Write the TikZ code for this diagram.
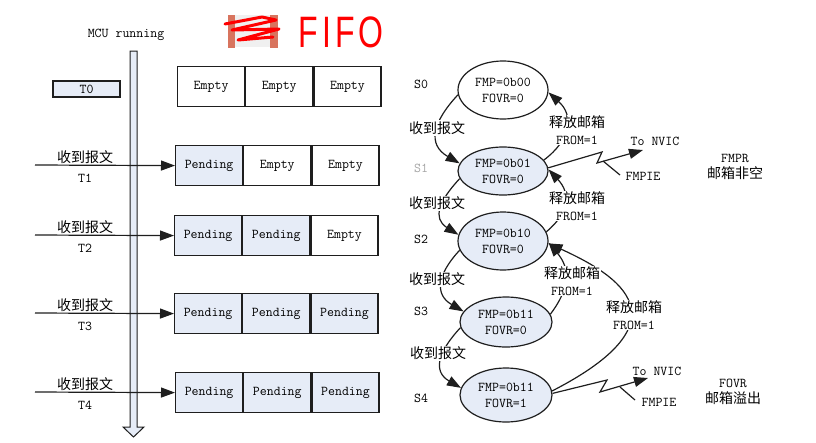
\documentclass[tikz,border=0pt]{standalone}
\usepackage{fontspec}
\setmainfont{Liberation Serif}
\newfontfamily\cjk{Noto Sans CJK SC}
\newfontfamily\hand{Liberation Sans}
\usetikzlibrary{arrows.meta,shapes.geometric}
\definecolor{lb}{HTML}{E6ECF7}
\definecolor{ln}{HTML}{1E1E1E}
\definecolor{salmon}{HTML}{D8745E}
\begin{document}
\begin{tikzpicture}[x=1pt,y=-1pt,
  mono/.style={font=\ttfamily\fontsize{13.5}{16}\selectfont},
  cn/.style={font=\cjk\fontsize{14}{17}\selectfont},
  cell/.style={draw=ln, line width=1.2pt, minimum width=67pt, minimum height=40pt, inner sep=0pt, mono},
  pend/.style={cell, fill=lb},
  st/.style={ellipse, draw=ln, line width=1.2pt, inner sep=0pt, align=center, mono, fill=lb},
  arr/.style={-{Triangle[length=14pt,width=10pt]}, line width=1.2pt, draw=ln},
  thin/.style={line width=1.2pt, draw=ln},
  lbl/.style={fill=white, inner sep=1pt, align=center, font=\fontsize{13.5}{17}\selectfont}
]
\useasboundingbox (0,0) rectangle (816,442);

% red scribble
\fill[gray!12] (229,15) rectangle (277,47);
\fill[salmon] (228,15) rectangle (235,48);
\fill[salmon] (270,15) rectangle (278,48);
\draw[red, line width=3pt, line join=round, line cap=round] (225,24) -- (262,17) -- (276,20) -- (232,30) -- (279,29) -- (238,40) -- (273,37);
\node[text=red, font=\hand, inner sep=0pt] (fifo) at (341,32) {\scalebox{0.8}[1.1]{\fontsize{40}{40}\selectfont F\kern5pt I\kern5pt F\kern5pt O}};

% MCU bar
\node[mono] (mcu) at (126,35) {MCU running};
\draw[fill=lb, draw=ln, line width=1pt] (130,51) -- (137,51) -- (137,427) -- (144,427) -- (133.5,437) -- (123,427) -- (130,427) -- cycle;
\node[draw=ln, fill=lb, line width=1.1pt, minimum width=67pt, minimum height=16pt, inner sep=0pt, mono] (t0) at (86.5,89) {T0};

% FIFO rows
\node[cell, anchor=north west] (r0a) at (177,66) {Empty};
\node[cell, anchor=west] (r0b) at (r0a.east) {Empty};
\node[cell, anchor=west] (r0c) at (r0b.east) {Empty};

\node[pend, anchor=north west] (r1a) at (175,145) {Pending};
\node[cell, anchor=west] (r1b) at (r1a.east) {Empty};
\node[cell, anchor=west] (r1c) at (r1b.east) {Empty};

\node[pend, anchor=north west] (r2a) at (174,215) {Pending};
\node[pend, anchor=west] (r2b) at (r2a.east) {Pending};
\node[cell, anchor=west] (r2c) at (r2b.east) {Empty};

\node[pend, anchor=north west] (r3a) at (174,293) {Pending};
\node[pend, anchor=west] (r3b) at (r3a.east) {Pending};
\node[pend, anchor=west] (r3c) at (r3b.east) {Pending};

\node[pend, anchor=north west] (r4a) at (175,372) {Pending};
\node[pend, anchor=west] (r4b) at (r4a.east) {Pending};
\node[pend, anchor=west] (r4c) at (r4b.east) {Pending};

% input arrows
\coordinate (in1) at (35,165);
\coordinate (in2) at (35,235);
\coordinate (in3) at (35,313);
\coordinate (in4) at (35,392);
\draw[arr] (in1) -- (r1a.west);
\draw[arr] (in2) -- (r2a.west);
\draw[arr] (in3) -- (r3a.west);
\draw[arr] (in4) -- (r4a.west);
\node[cn] (m1) at (85,157) {收到报文};
\node[mono] (t1) at (85,178) {T1};
\node[cn] (m2) at (85,227) {收到报文};
\node[mono] (t2) at (85,248) {T2};
\node[cn] (m3) at (85,305) {收到报文};
\node[mono] (t3) at (85,326) {T3};
\node[cn] (m4) at (85,384) {收到报文};
\node[mono] (t4) at (85,405) {T4};

% states
\node[st, fill=white, minimum width=90pt, minimum height=58pt] (S0) at (503,90) {FMP=0b00\\FOVR=0};
\node[st, minimum width=90pt, minimum height=48pt] (S1) at (503,171) {FMP=0b01\\FOVR=0};
\node[st, minimum width=90pt, minimum height=58pt] (S2) at (503,241) {FMP=0b10\\FOVR=0};
\node[st, minimum width=92pt, minimum height=50pt] (S3) at (506,322) {FMP=0b11\\FOVR=0};
\node[st, minimum width=92pt, minimum height=54pt] (S4) at (506,395) {FMP=0b11\\FOVR=1};

\node[mono] (s0l) at (421,84) {S0};
\node[mono, text=gray!70] (s1l) at (421,168) {S1};
\node[mono] (s2l) at (421,239) {S2};
\node[mono] (s3l) at (421,311) {S3};
\node[mono] (s4l) at (421,398) {S4};

% receive transitions (left)
\draw[arr] (S0.186) to[out=227,in=150,looseness=1.4] (S1.170);
\draw[arr] (S1.190) to[out=227,in=148,looseness=1.4] (S2.172);
\draw[arr] (S2.192) to[out=227,in=150,looseness=1.4] (S3.166);
\draw[arr] (S3.187) to[out=227,in=150,looseness=1.4] (S4.171);
\node[cn, fill=white, inner sep=1pt] (c1) at (437,128) {收到报文};
\node[cn, fill=white, inner sep=1pt] (c2) at (437,203) {收到报文};
\node[cn, fill=white, inner sep=1pt] (c3) at (437,279) {收到报文};
\node[cn, fill=white, inner sep=1pt] (c4) at (438,353) {收到报文};

% release transitions (right)
\draw[arr] (S1.15) to[out=37,in=-42,looseness=1.3] (S0.-3);
\draw[arr] (S2.12) to[out=40,in=-47,looseness=1.3] (S1.2);
\draw[arr] (S3.10) to[out=53,in=-50,looseness=1.2] (S2.-2);
\draw[arr] (S4.5) .. controls +(138,-71) and +(70,32) .. (S2.-3);
\node[lbl] (f1) at (577,130) {{\cjk\fontsize{14}{17}\selectfont 释放邮箱}\\{\ttfamily FROM=1}};
\node[lbl] (f2) at (577,206) {{\cjk\fontsize{14}{17}\selectfont 释放邮箱}\\{\ttfamily FROM=1}};
\node[lbl] (f3) at (572,281) {{\cjk\fontsize{14}{17}\selectfont 释放邮箱}\\{\ttfamily FROM=1}};
\node[lbl] (f4) at (634,315) {{\cjk\fontsize{14}{17}\selectfont 释放邮箱}\\{\ttfamily FROM=1}};

% interrupt zigzags
\coordinate (za1) at (602,152);
\coordinate (za2) at (597,163);
\coordinate (na) at (643,150);
\draw[arr, line join=miter] (S1.4) -- (za1) -- (za2) -- (na);
\coordinate (pa1) at (603,161);
\coordinate (pa2) at (620,175);
\draw[thin] (pa1) -- (pa2);
\node[mono] (nv1) at (655,141) {To NVIC};
\node[mono] (fe1) at (643,176) {FMPIE};

\coordinate (zb1) at (607,380);
\coordinate (zb2) at (600,392);
\coordinate (nb) at (648,378);
\draw[arr, line join=miter] (S4.2) -- (zb1) -- (zb2) -- (nb);
\coordinate (pb1) at (620,387);
\coordinate (pb2) at (635,400);
\draw[thin] (pb1) -- (pb2);
\node[mono] (nv2) at (657,371) {To NVIC};
\node[mono] (fe2) at (659,402) {FMPIE};

\node[mono, align=center] (fmpr) at (735,167) {FMPR\\{\cjk\fontsize{14}{16}\selectfont 邮箱非空}};
\node[mono, align=center] (fovr) at (733,392) {FOVR\\{\cjk\fontsize{14}{16}\selectfont 邮箱溢出}};
\end{tikzpicture}
\end{document}
